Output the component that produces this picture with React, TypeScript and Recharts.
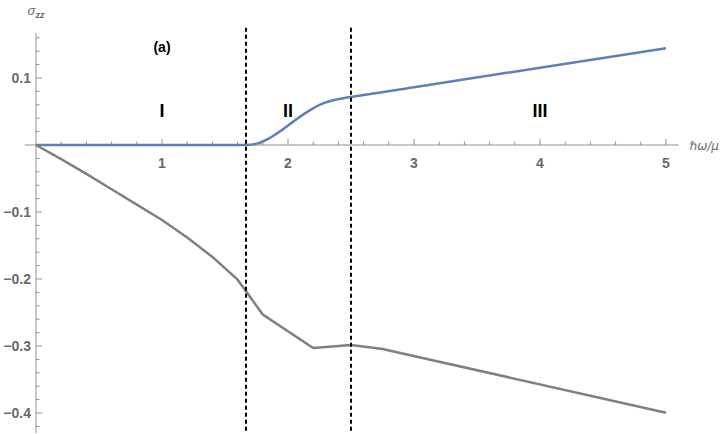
import React from 'react';
import { LineChart, Line, XAxis, YAxis, ReferenceLine, ReferenceDot } from 'recharts';

// sigma_zz, upper (blue) branch
const blueX = [0, 1.0, 1.667, 1.75, 1.85, 1.95, 2.05, 2.15, 2.25, 2.35, 2.45, 2.5, 3, 4, 5];
const blueY = [0, 0, 0, 0.002, 0.01, 0.022, 0.036, 0.049, 0.06, 0.0665, 0.0703, 0.0716, 0.0862, 0.1154, 0.1445];

// lower (gray) branch
const grayX = [0, 0.2, 0.4, 0.6, 0.8, 1.0, 1.2, 1.4, 1.6, 1.8, 2.2, 2.5, 2.75, 5];
const grayY = [0, -0.021, -0.043, -0.066, -0.089, -0.112, -0.138, -0.167, -0.201, -0.253, -0.303, -0.2985, -0.3045, -0.3995];

const xMajorTicks = [1, 2, 3, 4, 5];
const xMinorTicks = [0.2, 0.4, 0.6, 0.8, 1.2, 1.4, 1.6, 1.8, 2.2, 2.4, 2.6, 2.8, 3.2, 3.4, 3.6, 3.8, 4.2, 4.4, 4.6, 4.8];
const yMajorTicks = [0.1, -0.1, -0.2, -0.3, -0.4];
const yTickLabels = ['0.1', '\u22120.1', '\u22120.2', '\u22120.3', '\u22120.4'];
const yMinorTicks = [0.16, 0.14, 0.12, 0.08, 0.06, 0.04, 0.02, -0.02, -0.04, -0.06, -0.08, -0.12, -0.14, -0.16, -0.18, -0.22, -0.24, -0.26, -0.28, -0.32, -0.34, -0.36, -0.38, -0.42];

const phaseBounds = [5 / 3, 2.5];
const regionX = [1, 2, 4];
const regionLabels = ['I', 'II', 'III'];

const blueData = blueX.map((x, i) => ({ x, y: blueY[i] }));
const grayData = grayX.map((x, i) => ({ x, y: grayY[i] }));

// one pixel in data units (126 px per x unit, 670 px per y unit)
const PX = 1 / 126;
const PY = 1 / 670;

const AXIS = '#8f8f8f';
const tickFont = { fontFamily: 'Liberation Sans, Arial, sans-serif', fontSize: 14, fontWeight: 'bold' as const, fill: '#6a6a6a' };
const regionFont = { fontFamily: 'Liberation Sans, Arial, sans-serif', fontWeight: 'bold' as const, fill: '#000' };

const textAt = (text: React.ReactNode, dx: number, dy: number, style: any) => (props: any) => {
  const vb = props.viewBox || {};
  return (
    <text x={vb.x + dx} y={vb.y + dy} {...style}>
      {text}
    </text>
  );
};

export default function App() {
  return (
    <div style={{ position: 'absolute', left: 0, top: 0 }}>
      <LineChart width={724} height={434} margin={{ top: 4.3, right: 7.6, bottom: 0.9, left: 10.8 }}>
        <XAxis type="number" dataKey="x" domain={[-0.2, 5.4]} hide allowDataOverflow />
        <YAxis type="number" dataKey="y" domain={[-0.43, 0.21]} hide allowDataOverflow />

        {/* axes through the origin */}
        <ReferenceLine segment={[{ x: -0.09, y: 0 }, { x: 5.1, y: 0 }]} stroke={AXIS} strokeWidth={1} />
        <ReferenceLine segment={[{ x: 0, y: 0.167 }, { x: 0, y: -0.43 }]} stroke={AXIS} strokeWidth={1} />

        {xMajorTicks.map((t) => (
          <ReferenceLine key={'xM' + t} segment={[{ x: t, y: 0 }, { x: t, y: 6 * PY }]} stroke={AXIS} />
        ))}
        {xMinorTicks.map((t) => (
          <ReferenceLine key={'xm' + t} segment={[{ x: t, y: 0 }, { x: t, y: 3.5 * PY }]} stroke={AXIS} />
        ))}
        {yMajorTicks.map((t) => (
          <ReferenceLine key={'yM' + t} segment={[{ x: 0, y: t }, { x: 6 * PX, y: t }]} stroke={AXIS} />
        ))}
        {yMinorTicks.map((t) => (
          <ReferenceLine key={'ym' + t} segment={[{ x: 0, y: t }, { x: 3.5 * PX, y: t }]} stroke={AXIS} />
        ))}

        {xMajorTicks.map((t) => (
          <ReferenceDot key={'xl' + t} x={t} y={0} r={0} fill="none" stroke="none"
            label={textAt(String(t), 0, 22.5, { ...tickFont, textAnchor: 'middle' })} />
        ))}
        {yMajorTicks.map((t, i) => (
          <ReferenceDot key={'yl' + t} x={0} y={t} r={0} fill="none" stroke="none"
            label={textAt(yTickLabels[i], -5, 5, { ...tickFont, textAnchor: 'end' })} />
        ))}

        {/* axis titles */}
        <ReferenceDot x={0} y={0.167} r={0} fill="none" stroke="none"
          label={textAt(
            <>
              <tspan fontStyle="italic" fontSize={13}>σ</tspan>
              <tspan fontStyle="italic" fontWeight="bold" fontSize={9} dy={3}>zz</tspan>
            </>,
            0, -18, { fontFamily: 'Liberation Sans, Arial, sans-serif', fill: '#6a6a6a', textAnchor: 'middle' })} />
        <ReferenceDot x={5.1} y={0} r={0} fill="none" stroke="none"
          label={textAt('ℏω/μ', 11, 5, { fontFamily: 'DejaVu Sans, sans-serif', fontSize: 12, fontStyle: 'italic', fill: '#6a6a6a' })} />

        {/* region labels */}
        {regionX.map((x, i) => (
          <ReferenceDot key={'r' + x} x={x} y={0.052} r={0} fill="none" stroke="none"
            label={textAt(regionLabels[i], 0, 6.5, { ...regionFont, fontSize: 18, textAnchor: 'middle' })} />
        ))}
        <ReferenceDot x={1} y={0.147} r={0} fill="none" stroke="none"
          label={textAt('(a)', 0, 5, { ...regionFont, fontSize: 14, textAnchor: 'middle' })} />

        <Line data={blueData} dataKey="y" type="monotone" stroke="#5E81B5" strokeWidth={2.5} dot={false} isAnimationActive={false} />
        <Line data={grayData} dataKey="y" type="linear" stroke="#808080" strokeWidth={2.5} dot={false} isAnimationActive={false} />

        {phaseBounds.map((b) => (
          <ReferenceLine key={'b' + b} segment={[{ x: b, y: 0.175 }, { x: b, y: -0.43 }]}
            stroke="#000" strokeWidth={2} strokeDasharray="4 3" />
        ))}
      </LineChart>
    </div>
  );
}
